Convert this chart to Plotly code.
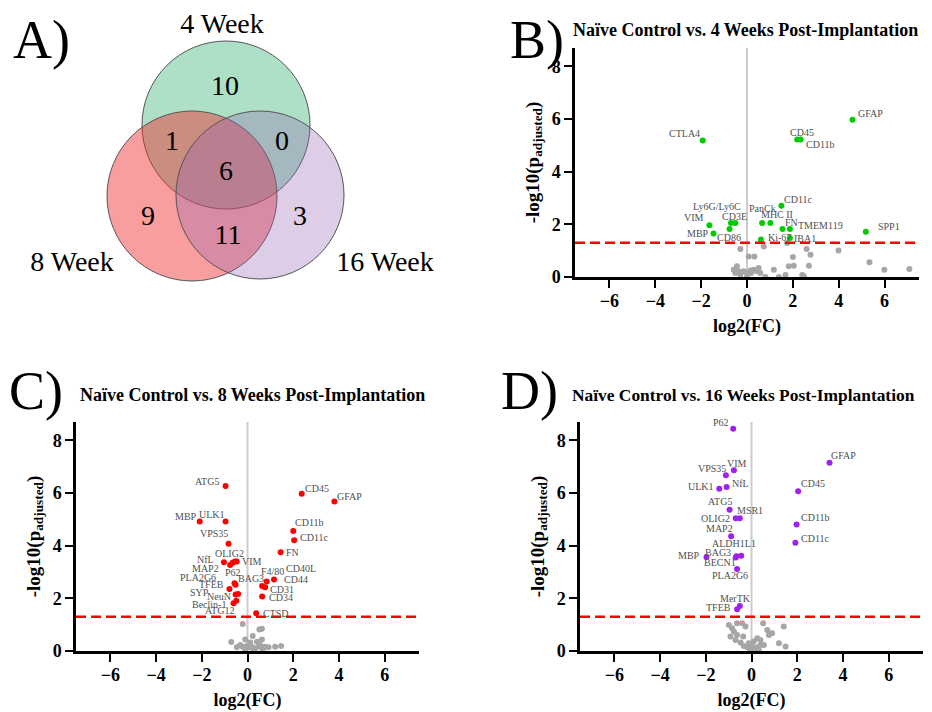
import plotly.graph_objects as go

W, H = 932, 712
OFF = 8  # page body margin in the browser
SERIF = '"Liberation Serif", "Times New Roman", Times, serif'

# ---------------- Venn data ----------------
venn_sets = ["4 Week", "8 Week", "16 Week"]
venn_regions = ["4 only", "4 & 8", "4 & 16", "4 & 8 & 16", "8 only", "8 & 16", "16 only"]
venn_counts = [10, 1, 0, 6, 9, 11, 3]

# ---------------- Panel B: 4 weeks ----------------
b_genes = ["GFAP", "CTLA4", "CD45", "CD11b", "CD11c", "PanCk", "MHC II", "FN", "TMEM119",
           "IBA1", "Ki-67", "SPP1", "Ly6G/Ly6C", "CD3E", "VIM", "MBP", "CD86"]
b_fc = [4.6, -1.93, 2.19, 2.34, 1.5, 0.66, 1.02, 1.55, 1.87, 1.87, 0.61, 5.18, -0.51, -0.7, -1.64, -1.46, -0.76]
b_p = [5.97, 5.19, 5.22, 5.22, 2.71, 2.05, 2.05, 1.82, 1.82, 1.48, 1.42, 1.72, 2.05, 2.05, 1.97, 1.65, 1.82]
b_ns_fc = [-0.29, 0.73, 0.07, 0.32, 1.75, 2.0, 2.6, 2.77, 3.99, 5.34, 5.99, 7.08, 1.17, 1.82, 2.04, 2.7,
           0.8, 1.39, 1.68, 2.41, 2.48, -0.58, -0.44, -0.36, -0.15, 0.0, 0.15, 0.29, 0.44, 0.51, -0.51,
           -0.29, 0.0, 0.18, 0.58]
b_ns_p = [1.06, 1.16, 0.78, 0.78, 1.29, 0.76, 1.06, 0.85, 1.01, 0.56, 0.28, 0.3, 0.28, 0.41, 0.43, 0.43,
          0.0, 0.0, 0.08, 0.08, 0.03, 0.28, 0.41, 0.22, 0.22, 0.15, 0.25, 0.28, 0.22, 0.34, 0.15,
          0.09, 0.0, 0.15, 0.15]

# ---------------- Panel C: 8 weeks ----------------
c_genes = ["ATG5", "CD45", "GFAP", "MBP", "ULK1", "CD11b", "CD11c", "VPS35", "FN", "NfL", "MAP2", "P62",
           "OLIG2", "VIM", "CD44", "CD40L", "F4/80", "CD31", "CD34", "CTSD", "PLA2G6", "BAG3", "TFEB",
           "SYP", "NeuN", "Beclin-1", "ATG12"]
c_fc = [-0.96, 2.37, 3.8, -2.09, -0.96, 2.0, 2.04, -0.83, 1.45, -1.03, -0.76, -0.65, -0.55, -0.47, 1.16,
        0.84, 0.64, 0.77, 0.64, 0.38, -0.57, -0.52, -0.79, -0.52, -0.41, -0.49, -0.61]
c_p = [6.27, 5.97, 5.68, 4.92, 4.92, 4.56, 4.21, 4.07, 3.75, 3.37, 3.27, 3.35, 3.4, 3.4, 2.72, 2.64, 2.47,
       2.42, 2.07, 1.43, 2.57, 2.52, 2.36, 2.15, 2.17, 1.91, 1.81]
c_ns_fc = [-0.21, -0.71, -0.1, 0.23, 0.52, 0.63, 0.63, 0.41, 0.12, -0.32, -0.21, -0.03, 0.04, 0.19, 0.33,
           0.48, 0.77, 0.92, 1.21, 1.47, -0.47, -0.1, 0.26, 0.67, 0.55]
c_ns_p = [1.03, 0.34, 0.44, 0.57, 0.82, 0.85, 0.44, 0.35, 0.32, 0.23, 0.16, 0.19, 0.14, 0.16, 0.1, 0.16,
          0.16, 0.14, 0.16, 0.19, 0.14, 0.06, 0.04, 0.06, 0.23]

# ---------------- Panel D: 16 weeks ----------------
d_genes = ["P62", "GFAP", "VIM", "VPS35", "NfL", "ULK1", "CD45", "ATG5", "MSR1", "OLIG2", "CD11b", "MAP2",
           "CD11c", "ALDH1L1", "BAG3", "MBP", "BECN1", "PLA2G6", "MerTK", "TFEB"]
d_fc = [-0.8, 3.41, -0.77, -1.12, -1.09, -1.41, 2.04, -0.96, -0.51, -0.69, 1.97, -0.89, 1.92, -0.45, -0.66,
        -1.97, -0.69, -0.63, -0.51, -0.63]
d_p = [8.44, 7.15, 6.87, 6.68, 6.23, 6.16, 6.07, 5.37, 5.04, 5.04, 4.81, 4.36, 4.11, 3.62, 3.6, 3.57, 3.55,
       3.12, 1.71, 1.59]
d_ns_fc = [-0.99, -0.85, -0.77, -0.63, -0.41, -0.26, -0.92, -0.7, -0.48, -0.34, -0.12, 0.1, 0.25, 0.39,
           0.51, 0.69, 0.76, 0.9, 1.41, 1.2, 1.49, 0.54, 0.03, -0.07, 0.1, -0.19, 0.25, 0.32, -0.04, 0.39,
           -0.63, -0.36]
d_ns_p = [0.99, 0.86, 0.74, 0.61, 1.05, 0.93, 0.55, 0.42, 0.32, 0.19, 0.29, 0.36, 0.48, 0.42, 1.05, 0.8,
          0.61, 0.67, 0.93, 0.29, 0.17, 0.23, 0.17, 0.06, 0.04, 0.14, 0.14, 0.04, 0.0, 0.23, 1.05, 0.55]

x_ticks = [-6, -4, -2, 0, 2, 4, 6]
y_ticks = [0, 2, 4, 6, 8]
p_cut = 1.301  # -log10(0.05)

# ---------------- label placement (style, not data): anchor, dx px, dy px ----------------
b_lab = {"GFAP": ("left", 4, 6), "CTLA4": ("right", -1, 7), "CD45": ("center", 5, 7),
         "CD11b": ("left", 3, -5), "CD11c": ("left", 1, 6), "PanCk": ("center", 0, 15),
         "MHC II": ("center", 7, 9), "FN": ("left", 0, 7), "TMEM119": ("left", 6, 4),
         "IBA1": ("left", 2, 0), "Ki-67": ("left", 5, 2), "SPP1": ("left", 10, 5),
         "Ly6G/Ly6C": ("right", 8, 17), "CD3E": ("center", 4, 7), "VIM": ("right", -3, 8),
         "MBP": ("right", -3, 0), "CD86": ("center", -1, -8)}
c_lab = {"ATG5": ("right", -5, 4), "CD45": ("left", 1, 5), "GFAP": ("left", 1, 5), "MBP": ("right", -1, 5),
         "ULK1": ("right", 1, 7), "CD11b": ("left", 0, 8), "CD11c": ("left", 4, 3), "VPS35": ("right", 1, 10),
         "FN": ("left", 3, 0), "NfL": ("right", -8, 3), "MAP2": ("right", -9, -4), "P62": ("center", 0, -10),
         "OLIG2": ("center", -5, 8), "VIM": ("left", 3, 0), "CD44": ("left", 8, 0), "CD40L": ("left", 17, 13),
         "F4/80": ("center", 10, 14), "CD31": ("left", 3, -2), "CD34": ("left", 5, -1), "CTSD": ("left", 5, 0),
         "PLA2G6": ("right", -16, 6), "BAG3": ("left", 0, 6), "TFEB": ("right", -3, 4),
         "SYP": ("right", -25, 2), "NeuN": ("right", -5, -3), "Beclin-1": ("right", -8, -4),
         "ATG12": ("right", 2, -7)}
d_lab = {"P62": ("right", -2, 6), "GFAP": ("left", 0, 7), "VIM": ("center", 3, 7), "VPS35": ("right", 2, 7),
         "NfL": ("left", 3, 4), "ULK1": ("right", -3, 2), "CD45": ("left", 1, 8), "ATG5": ("right", 4, 8),
         "MSR1": ("left", -5, 8), "OLIG2": ("right", -4, 0), "CD11b": ("left", 2, 7), "MAP2": ("right", 4, 8),
         "CD11c": ("left", 4, 4), "ALDH1L1": ("center", -7, 12), "BAG3": ("right", -3, 4),
         "MBP": ("right", -4, 2), "BECN1": ("right", 2, -5), "PLA2G6": ("center", -7, -7),
         "MerTK": ("center", -4, 7), "TFEB": ("right", -4, 2)}


def px(x):
    return (x - OFF) / W


def py(y):
    return 1 - (y - OFF) / H


fig = go.Figure()
annotations = []
shapes = []

panels = [
    ("x", "y", b_genes, b_fc, b_p, b_ns_fc, b_ns_p, b_lab, "#00cc00",
     "Naïve Control vs. 4 Weeks Post-Implantation", (575, 919), (48, 277), (571, 30, 18)),
    ("x2", "y2", c_genes, c_fc, c_p, c_ns_fc, c_ns_p, c_lab, "#ff0000",
     "Naïve Control vs. 8 Weeks Post-Implantation", (76, 419), (422, 651), (78, 395, 18)),
    ("x3", "y3", d_genes, d_fc, d_p, d_ns_fc, d_ns_p, d_lab, "#a020f0",
     "Naïve Control vs. 16 Weeks Post-Implantation", (580, 923), (422, 651), (570, 395, 17.4)),
]

axis_common = dict(showgrid=False, zeroline=False, showline=True, linecolor="black", linewidth=2.5,
                   ticks="outside", ticklen=8, tickwidth=2, tickcolor="black",
                   tickfont=dict(family=SERIF, size=18, color="black", weight="bold"), automargin=False)

for (xa, ya, genes, fc, pv, nsx, nsy, lab, color, title, (x0, x1), (y0, y1), (tx, ty, tsize)) in panels:
    fig.add_trace(go.Scatter(x=nsx, y=nsy, mode="markers", xaxis=xa, yaxis=ya, cliponaxis=False,
                             marker=dict(color="#a6a6a6", size=6), showlegend=False, hoverinfo="skip"))
    fig.add_trace(go.Scatter(x=fc, y=pv, mode="markers", xaxis=xa, yaxis=ya, cliponaxis=False,
                             marker=dict(color=color, size=6), text=genes, showlegend=False))
    for g, xv, yv in zip(genes, fc, pv):
        anc, dx, dy = lab[g]
        annotations.append(dict(x=xv, y=yv, xref=xa, yref=ya, text=g, showarrow=False,
                                xanchor=anc, yanchor="middle", xshift=dx, yshift=dy,
                                font=dict(family=SERIF, size=10, color="#505050")))
    shapes.append(dict(type="line", xref=xa, yref=ya + " domain", x0=0, x1=0, y0=0, y1=1,
                       line=dict(color="#cccccc", width=2), layer="below"))
    shapes.append(dict(type="line", xref=xa + " domain", yref=ya, x0=0, x1=1, y0=p_cut, y1=p_cut,
                       line=dict(color="#ff0000", width=2.5, dash="10px,5px"), layer="above"))
    annotations.append(dict(x=px(tx), y=py(ty), xref="paper", yref="paper", text=title,
                            showarrow=False, xanchor="left", yanchor="middle",
                            font=dict(family=SERIF, size=tsize, color="black", weight="bold")))
    xn = "xaxis" if xa == "x" else "xaxis" + xa[1:]
    yn = "yaxis" if ya == "y" else "yaxis" + ya[1:]
    fig.layout[xn] = dict(axis_common, domain=[px(x0), px(x1)], range=[-7.5, 7.5], tickvals=x_ticks,
                          anchor=ya, ticklabelstandoff=-2,
                          title=dict(text="log2(FC)", standoff=10,
                                     font=dict(family=SERIF, size=18, color="black", weight="bold")))
    fig.layout[yn] = dict(axis_common, domain=[py(y1), py(y0)], range=[0, 8.7], tickvals=y_ticks,
                          anchor=xa,
                          title=dict(text="-log10(p<sub>adjusted</sub>)", standoff=8,
                                     font=dict(family=SERIF, size=19, color="black", weight="bold")))

# panel letters
for letter, (lx, ly) in zip(["A)", "B)", "C)", "D)"], [(41, 40), (537, 40), (36, 391), (529, 391)]):
    annotations.append(dict(x=px(lx), y=py(ly), xref="paper", yref="paper", text=letter, showarrow=False,
                            xanchor="center", yanchor="middle",
                            font=dict(family=SERIF, size=54, color="black")))

# ---------------- Venn (own hidden axes in screen-pixel units) ----------------
venn_circles = [((226, 125), 84, "rgba(60,180,120,0.42)"),
                ((192, 196), 85, "rgba(240,40,40,0.45)"),
                ((260, 195), 84, "rgba(150,100,180,0.32)")]
for (cx, cy), r, fillc in venn_circles:
    shapes.append(dict(type="circle", xref="x4", yref="y4", x0=cx - r, x1=cx + r, y0=cy - r, y1=cy + r,
                       fillcolor=fillc, line=dict(color="#555555", width=1), layer="below"))
venn_count_pos = [(225, 88), (172, 143), (282, 143), (226, 173), (148, 218), (228, 237), (300, 218)]
fig.add_trace(go.Scatter(x=[p[0] for p in venn_count_pos], y=[p[1] for p in venn_count_pos],
                         xaxis="x4", yaxis="y4", mode="text", text=[str(v) for v in venn_counts],
                         textfont=dict(family=SERIF, size=28, color="black"), showlegend=False,
                         hovertext=venn_regions, cliponaxis=False))
venn_label_pos = [(222, 26), (72, 264), (385, 264)]
fig.add_trace(go.Scatter(x=[p[0] for p in venn_label_pos], y=[p[1] for p in venn_label_pos],
                         xaxis="x4", yaxis="y4", mode="text", text=venn_sets,
                         textfont=dict(family=SERIF, size=28, color="black"), showlegend=False,
                         cliponaxis=False))
fig.layout["xaxis4"] = dict(domain=[0, px(466)], range=[OFF, 466], visible=False, anchor="y4", fixedrange=True)
fig.layout["yaxis4"] = dict(domain=[py(356), 1], range=[356, OFF], visible=False, anchor="x4", fixedrange=True)

fig.update_layout(width=W, height=H, margin=dict(l=0, r=0, t=0, b=0), template="none",
                  paper_bgcolor="white", plot_bgcolor="rgba(0,0,0,0)",
                  annotations=annotations, shapes=shapes, showlegend=False)

fig.write_html("out.html")
